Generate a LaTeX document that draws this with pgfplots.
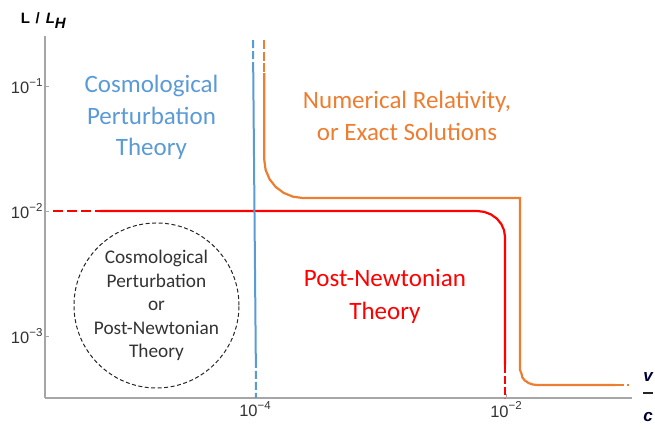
\documentclass[border=0pt]{standalone}
\usepackage{fontspec}
\setmainfont{Carlito}
\newfontfamily\arial{Liberation Sans}
\usepackage{pgfplots}
\pgfplotsset{compat=1.18}
\definecolor{cblue}{HTML}{5B9BD5}
\definecolor{corange}{HTML}{ED7D31}
\definecolor{cred}{HTML}{FF0000}
\definecolor{axgray}{HTML}{A6A6A6}
\definecolor{tgray}{HTML}{333333}
\newcommand{\tl}[1]{10\raisebox{7.5pt}{\fontsize{11.5}{11.5}\selectfont −#1}}
\begin{document}
\begin{tikzpicture}
\path[use as bounding box] (0,0) rectangle (655pt,428pt);
\begin{axis}[
  at={(45pt,30pt)}, anchor=south west,
  scale only axis, width=587pt, height=362pt,
  xmode=log, ymode=log,
  xmin=2.122e-6, xmax=0.1009, ymin=3.19e-4, ymax=0.2512,
  axis lines*=left,
  axis line style={axgray, line width=1.3pt},
  xtick={1e-4,1e-2},
  xticklabels={\tl{4},\tl{2}},
  ytick={1e-3,1e-2,1e-1},
  yticklabels={\tl{3},\tl{2},\tl{1}},
  xminorticks=false, yminorticks=false,
  tick align=inside, major tick length=4pt,
  tick style={axgray, line width=0.8pt},
  tick label style={font=\arial\fontsize{16.5}{16.5}\selectfont, text=tgray},
  yticklabel style={xshift=1pt},
  clip=false,
]
% red: Post-Newtonian boundary
\addplot[cred, line width=2.2pt, dash pattern=on 10pt off 4pt] coordinates {(2.457e-6,0.01) (5.82e-6,0.01)};
\addplot[cred, line width=2.2pt] coordinates {
 (5.82e-6,0.01) (5.87e-3,0.01) (6.71e-3,9.84e-3) (7.59e-3,9.38e-3) (8.45e-3,8.69e-3)
 (9.17e-3,7.87e-3) (9.65e-3,7.01e-3) (9.82e-3,6.19e-3) (9.82e-3,5.86e-4)};
\addplot[cred, line width=2.2pt, dash pattern=on 8pt off 3pt] coordinates {(9.82e-3,5.86e-4) (9.82e-3,3.19e-4)};
% orange: Numerical relativity boundary
\addplot[corange, line width=2.2pt, dash pattern=on 9pt off 2.5pt] coordinates {(1.186e-4,0.2333) (1.186e-4,0.127)};
\addplot[corange, line width=2.2pt] coordinates {
 (1.186e-4,0.127) (1.186e-4,0.0256) (1.215e-4,0.02136) (1.304e-4,0.01803) (1.459e-4,0.01559)
 (1.691e-4,0.01396) (2.008e-4,0.01301) (2.41e-4,0.0127) (1.294e-2,0.0127)
 (1.294e-2,5.35e-4) (1.331e-2,4.973e-4) (1.349e-2,4.656e-4) (1.416e-2,4.395e-4)
 (1.511e-2,4.207e-4) (1.629e-2,4.093e-4) (1.766e-2,4.06e-4) (7.40e-2,4.06e-4)};
\addplot[corange, line width=2.2pt, dash pattern=on 9pt off 3pt on 2pt off 3pt] coordinates {(7.40e-2,4.06e-4) (0.1009,4.06e-4)};
% blue: Cosmological perturbation boundary
\addplot[cblue, line width=2pt, dash pattern=on 8pt off 3pt] coordinates {(9.64e-5,0.2333) (9.67e-5,0.153)};
\addplot[cblue, line width=2pt] coordinates {(9.67e-5,0.153) (1.015e-4,6.43e-4)};
\addplot[cblue, line width=2pt, dash pattern=on 8pt off 3pt] coordinates {(1.015e-4,6.43e-4) (1.018e-4,3.19e-4)};
% dashed circle
\draw[black!85, line width=1pt, dash pattern=on 4pt off 2.5pt] (axis cs:1.641e-5,1.754e-3) circle[radius=82.5pt];
% region labels
\node[cblue, align=center, font=\fontsize{25}{31.5}\selectfont] at (axis cs:1.497e-5,0.05598) {Cosmological\\Perturbation\\Theory};
\node[corange, align=center, font=\fontsize{25}{31.5}\selectfont] at (axis cs:1.626e-3,0.0575) {Numerical Relativity,\\or Exact Solutions};
\node[cred, align=center, font=\fontsize{25}{33}\selectfont] at (axis cs:1.086e-3,2.089e-3) {Post-Newtonian\\Theory};
\node[text=black!80, align=center, font=\fontsize{19.3}{23.5}\selectfont] at (axis cs:1.641e-5,1.754e-3) {Cosmological\\Perturbation\\or\\Post-Newtonian\\Theory};
% axis labels
\node[anchor=center, font=\arial\bfseries\fontsize{15}{15}\selectfont, text=black] at ([xshift=-1.5pt,yshift=15.5pt]rel axis cs:0,1) {L\hspace{5.5pt}/\hspace{6pt}\textit{L}\raisebox{-5pt}{\textit{H}}};
\node[anchor=center, font=\arial\bfseries\itshape\fontsize{17}{17}\selectfont, text=black!80!blue] at ([xshift=16pt,yshift=21pt]rel axis cs:1,0) {v};
\node[anchor=center, inner sep=0pt, text=black!85] at ([xshift=16pt,yshift=5pt]rel axis cs:1,0) {\rule{10pt}{1.6pt}};
\node[anchor=center, font=\arial\bfseries\itshape\fontsize{17}{17}\selectfont, text=black!80!blue] at ([xshift=16pt,yshift=-19pt]rel axis cs:1,0) {c};
\end{axis}
\end{tikzpicture}
\end{document}
